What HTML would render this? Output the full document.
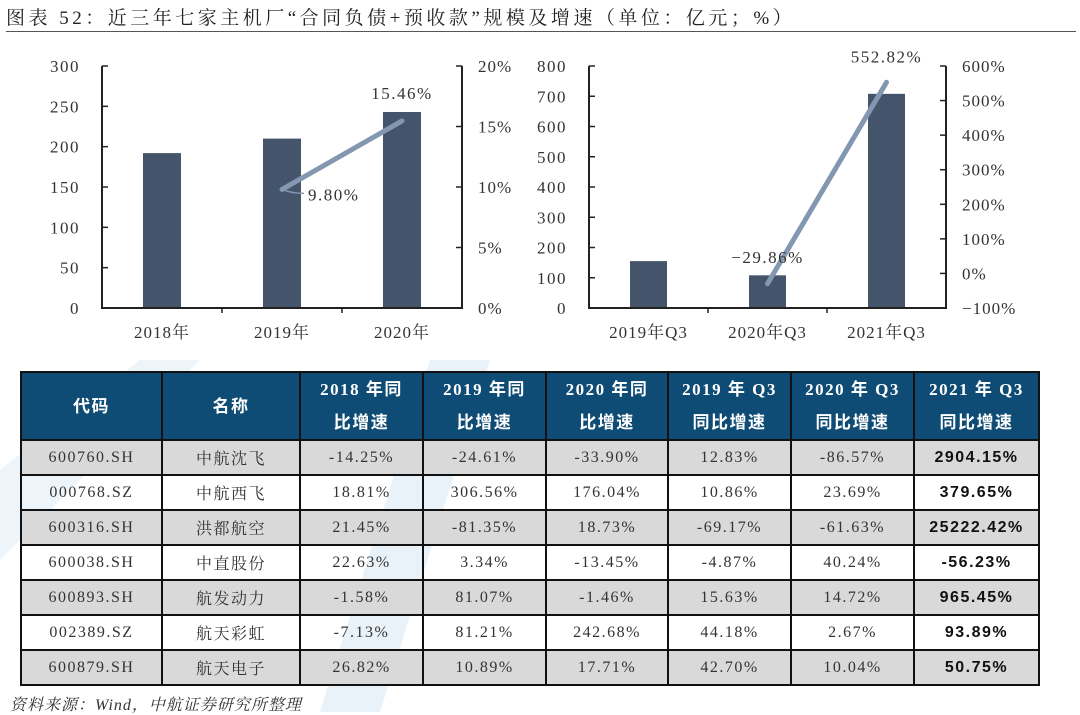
<!DOCTYPE html>
<html><head><meta charset="utf-8">
<style>
body{margin:0;width:1080px;height:712px;background:#fff;position:relative;overflow:hidden;font-family:"Liberation Serif","Noto Serif CJK SC",serif;}
#title{position:absolute;left:6px;top:3px;font-size:19px;color:#222;letter-spacing:3.5px;white-space:nowrap;}
#rule{position:absolute;left:6px;top:31px;width:1070px;height:0;border-top:1.5px solid #555;}
svg{position:absolute;left:0;top:0;}
table{position:absolute;left:20px;top:371px;border-collapse:collapse;table-layout:fixed;width:1018px;}
td,th{border:2px solid #111;text-align:center;font-size:16px;color:#333;height:33px;padding:0;letter-spacing:1.5px;}
th{background:#0f4c75;color:#fff;font-weight:bold;height:66px;font-size:17px;line-height:33px;font-family:"Liberation Serif","Noto Sans CJK SC",sans-serif;}
tr.g td{background:#d9d9d9;}
td.b{font-weight:bold;color:#111;font-family:"Liberation Sans","Noto Sans CJK SC",sans-serif;}
#src{position:absolute;left:10px;top:692px;font-size:16px;font-style:italic;color:#333;letter-spacing:1px;}
</style></head><body>
<svg width="1080" height="712">
<polygon points="430,360 490,360 380,712 320,712" fill="#dbe9f5" opacity="0.6"/>
<polygon points="0,470 140,360 200,360 0,560" fill="#dbe9f5" opacity="0.5"/>
</svg>
<div id="title">图表 52：近三年七家主机厂“合同负债+预收款”规模及增速（单位：亿元；%）</div>
<div id="rule"></div>
<svg id="charts" width="1080" height="360"></svg>
<table>
<colgroup><col style="width:141px"><col style="width:138px"><col style="width:123px"><col style="width:123px"><col style="width:122px"><col style="width:123px"><col style="width:123px"><col style="width:125px"></colgroup>
<tr><th>代码</th><th>名称</th><th>2018 年同<br>比增速</th><th>2019 年同<br>比增速</th><th>2020 年同<br>比增速</th><th>2019 年 Q3<br>同比增速</th><th>2020 年 Q3<br>同比增速</th><th>2021 年 Q3<br>同比增速</th></tr>
<tr class="g"><td>600760.SH</td><td>中航沈飞</td><td>-14.25%</td><td>-24.61%</td><td>-33.90%</td><td>12.83%</td><td>-86.57%</td><td class="b">2904.15%</td></tr>
<tr><td>000768.SZ</td><td>中航西飞</td><td>18.81%</td><td>306.56%</td><td>176.04%</td><td>10.86%</td><td>23.69%</td><td class="b">379.65%</td></tr>
<tr class="g"><td>600316.SH</td><td>洪都航空</td><td>21.45%</td><td>-81.35%</td><td>18.73%</td><td>-69.17%</td><td>-61.63%</td><td class="b">25222.42%</td></tr>
<tr><td>600038.SH</td><td>中直股份</td><td>22.63%</td><td>3.34%</td><td>-13.45%</td><td>-4.87%</td><td>40.24%</td><td class="b">-56.23%</td></tr>
<tr class="g"><td>600893.SH</td><td>航发动力</td><td>-1.58%</td><td>81.07%</td><td>-1.46%</td><td>15.63%</td><td>14.72%</td><td class="b">965.45%</td></tr>
<tr><td>002389.SZ</td><td>航天彩虹</td><td>-7.13%</td><td>81.21%</td><td>242.68%</td><td>44.18%</td><td>2.67%</td><td class="b">93.89%</td></tr>
<tr class="g"><td>600879.SH</td><td>航天电子</td><td>26.82%</td><td>10.89%</td><td>17.71%</td><td>42.70%</td><td>10.04%</td><td class="b">50.75%</td></tr>
</table>
<div id="src">资料来源：Wind，中航证券研究所整理</div>
<script>
const leftCats=["2018年","2019年","2020年"];
const leftBars=[192,210,243];
const leftGrowth=[null,9.80,15.46];
const leftTicks=[0,50,100,150,200,250,300];
const leftPctTicks=[0,5,10,15,20];
const rightCats=["2019年Q3","2020年Q3","2021年Q3"];
const rightBars=[155,108,708];
const rightGrowth=[null,-29.86,552.82];
const rightTicks=[0,100,200,300,400,500,600,700,800];
const rightPctTicks=[-100,0,100,200,300,400,500,600];

const NS="http://www.w3.org/2000/svg";
const svg=document.getElementById('charts');
function mk(t,a,txt){const e=document.createElementNS(NS,t);for(const k in a)e.setAttribute(k,a[k]);if(txt!=null)e.textContent=txt;svg.appendChild(e);return e;}

function drawChart(o){
  const {x0,x1,y0,y1,cats,bars,growth,ticks,pticks,bw,labs}=o;
  const bmin=ticks[0],bmax=ticks[ticks.length-1],pmin=pticks[0],pmax=pticks[pticks.length-1];
  const yb=v=>y1-(v-bmin)/(bmax-bmin)*(y1-y0);
  const yp=v=>y1-(v-pmin)/(pmax-pmin)*(y1-y0);
  const step=(x1-x0)/cats.length;
  const xc=i=>x0+step*(i+0.5);
  ticks.forEach(t=>{
    const tk=mk('line',{x1:x0,x2:x0+6,y1:yb(t),y2:yb(t),stroke:'#222','stroke-width':1.5});
    
    
    const tl=mk('text',{x:x0-22,y:yb(t)+6,'text-anchor':'end','font-size':17,fill:'#333','letter-spacing':1.5},String(t));
    
    
  });
  pticks.forEach(t=>{
    const tk=mk('line',{x1:x1,x2:x1-6,y1:yp(t),y2:yp(t),stroke:'#222','stroke-width':1.5});
    
    
    const tl=mk('text',{x:x1+16,y:yp(t)+6,'font-size':17,fill:'#333','letter-spacing':1},(t<0?'−':'')+Math.abs(t)+'%');
    
    
  });
  bars.forEach((v,i)=>{
    const b=mk('rect',{x:xc(i)-bw/2,y:yb(v),width:bw,height:y1-yb(v),fill:'#44546a'});
    
    
    const c=mk('text',{x:xc(i),y:y1+30,'text-anchor':'middle','font-size':17,fill:'#333','letter-spacing':1},cats[i]);
    
    
  });
  for(let i=1;i<cats.length;i++){
    const tk=mk('line',{x1:x0+step*i,x2:x0+step*i,y1:y1,y2:y1+5,stroke:'#222','stroke-width':1.5});
    
    
  }
  const ax=mk('path',{d:`M${x0},${y0}V${y1}H${x1}V${y0}`,fill:'none',stroke:'#222','stroke-width':2});
  
  
  const pts=[];growth.forEach((g,i)=>{if(g!=null)pts.push([xc(i),yp(g),g,i]);});
  const ln=mk('polyline',{points:pts.map(p=>p[0]+','+p[1]).join(' '),fill:'none',stroke:'#8497b0','stroke-width':5,'stroke-linecap':'round'});
  
  
  pts.forEach((p,k)=>{
    const L=labs[k];
    if(L.leader){const l=mk('path',{d:`M${p[0]},${p[1]} Q${p[0]+10},${p[1]+4} ${p[0]+22},${p[1]+4}`,fill:'none',stroke:'#8497b0','stroke-width':1.5});
      
      }
    const t=mk('text',{x:p[0]+L.dx,y:p[1]+L.dy,'text-anchor':L.anchor,'font-size':17,fill:'#333','letter-spacing':1.5},(p[2]<0?'−':'')+Math.abs(p[2]).toFixed(2)+'%');
    
    
  });
}
drawChart({x0:102,x1:462,y0:66,y1:308,cats:leftCats,bars:leftBars,growth:leftGrowth,ticks:leftTicks,pticks:leftPctTicks,bw:38,
  labs:[{dx:26,dy:11,anchor:'start',leader:true},{dx:0,dy:-22,anchor:'middle'}]});
drawChart({x0:589,x1:946,y0:66,y1:308,cats:rightCats,bars:rightBars,growth:rightGrowth,ticks:rightTicks,pticks:rightPctTicks,bw:37,
  labs:[{dx:0,dy:-21,anchor:'middle'},{dx:0,dy:-20,anchor:'middle'}]});
</script>
</body></html>
